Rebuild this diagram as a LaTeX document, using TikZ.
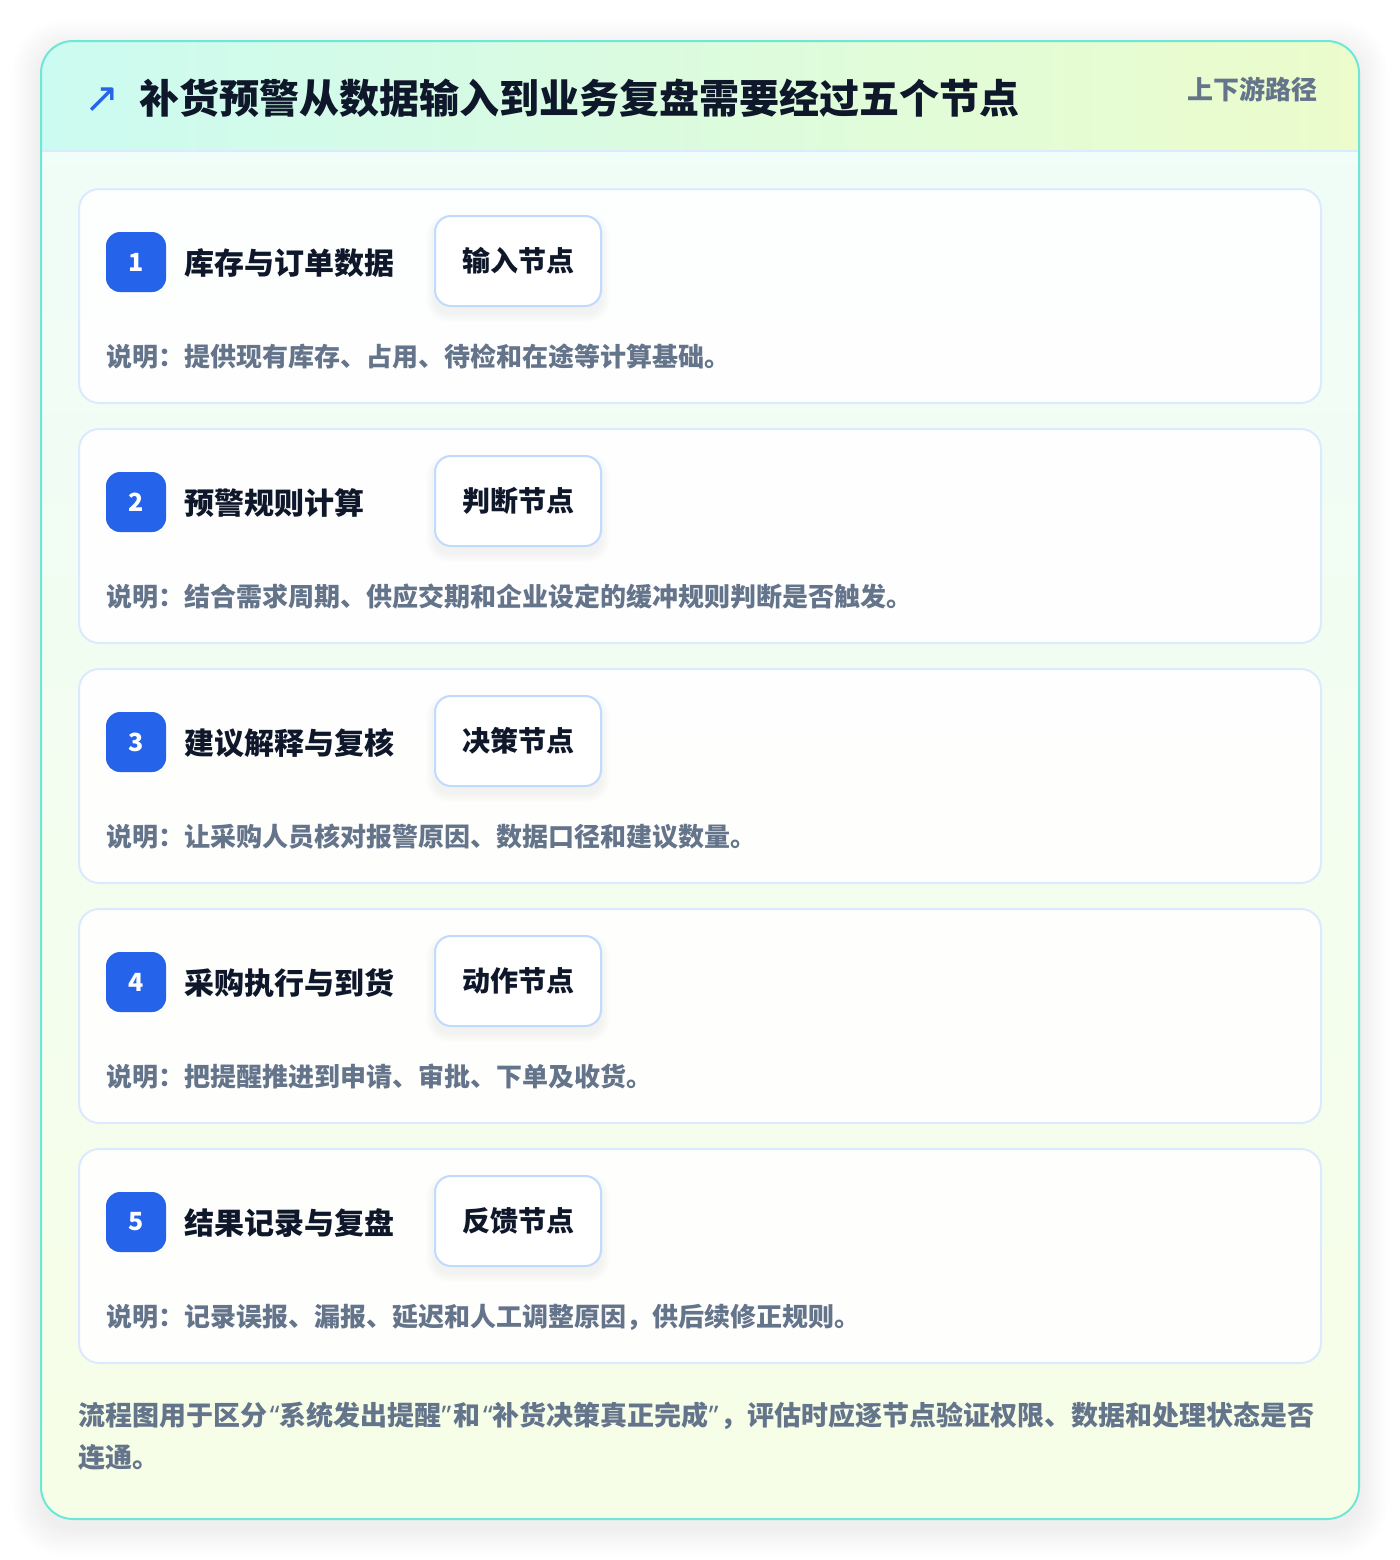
\documentclass[tikz,border=0pt]{standalone}
\usepackage{fontspec}
\setmainfont{Noto Sans CJK SC}
\newfontfamily\symfont{DejaVu Sans}
\newfontfamily\latinfont{Noto Sans}
\newcommand{\myLq}{\makebox[0.45em][r]{\latinfont “}}
\newcommand{\myRq}{\makebox[0.45em][l]{\latinfont ”}}
\definecolor{ink}{HTML}{0F172A}
\definecolor{slate}{HTML}{64748B}
\definecolor{brand}{HTML}{2563EB}
\definecolor{teal}{HTML}{6EE7D6}
\definecolor{cardline}{HTML}{DBEAFE}
\definecolor{tagline}{HTML}{BFDBFE}
\definecolor{hdrL}{HTML}{CCFBF1}
\definecolor{hdrR}{HTML}{ECFCCB}
\definecolor{bodyT}{HTML}{EFFDF9}
\definecolor{bodyB}{HTML}{F7FEE7}
\begin{document}
\begin{tikzpicture}[x=0.5pt,y=-0.5pt,
  card/.style={draw=cardline,line width=1pt,fill=white,fill opacity=0.93,text opacity=1,rounded corners=10pt,minimum width=621pt,minimum height=107pt,inner sep=0pt},
  badge/.style={fill=brand,rounded corners=7pt,minimum width=30pt,minimum height=30pt,inner sep=0pt,text=white,font=\bfseries\fontsize{12.5pt}{14pt}\selectfont},
  ctitle/.style={anchor=west,inner sep=0pt,text=ink,font=\bfseries\fontsize{15pt}{18pt}\selectfont},
  tagbox/.style={draw=tagline,line width=1pt,fill=white,rounded corners=8pt,minimum width=83pt,minimum height=45pt,inner sep=0pt,text=ink,font=\bfseries\fontsize{14pt}{17pt}\selectfont},
  desc/.style={anchor=west,inner sep=0pt,text=slate,font=\bfseries\fontsize{13pt}{16pt}\selectfont}
]
\useasboundingbox (0,0) rectangle (1400,1560);
\fill[white] (0,0) rectangle (1400,1560);
% outer shadow
\foreach \i in {1,...,16}{
  \pgfmathsetmacro\rr{16+\i*0.6}
  \fill[black,opacity=0.005,rounded corners=\rr pt] (41-\i*1.8,41-\i*1.8+8) rectangle (1359+\i*1.8,1519+\i*1.8+8);
}
% outer card body
\path[rounded corners=16pt,top color=bodyT,bottom color=bodyB] (41,41) rectangle (1359,1519);
\begin{scope}
  \clip[rounded corners=16pt] (41,41) rectangle (1359,1519);
  \path[left color=hdrL,right color=hdrR] (41,41) rectangle (1359,151);
\end{scope}
\draw[cardline,line width=1pt] (42,151) -- (1358,151);
\draw[teal,line width=1pt,rounded corners=16pt] (41,41) rectangle (1359,1519);
% header
\node[anchor=center,inner sep=0pt,text=brand,font=\symfont\fontsize{21pt}{24pt}\selectfont] (arrow) at (102,100) {↗};
\node[anchor=west,inner sep=0pt,text=ink,font=\bfseries\fontsize{20pt}{24pt}\selectfont] (title) at (139,98) {补货预警从数据输入到业务复盘需要经过五个节点};
\node[anchor=east,inner sep=0pt,text=slate,font=\bfseries\fontsize{13pt}{16pt}\selectfont] (path) at (1318,89) {上下游路径};
% cards
\foreach \n/\t/\g/\d in {
  1/库存与订单数据/输入节点/说明：提供现有库存、占用、待检和在途等计算基础。,
  2/预警规则计算/判断节点/说明：结合需求周期、供应交期和企业设定的缓冲规则判断是否触发。,
  3/建议解释与复核/决策节点/说明：让采购人员核对报警原因、数据口径和建议数量。,
  4/采购执行与到货/动作节点/说明：把提醒推进到申请、审批、下单及收货。,
  5/结果记录与复盘/反馈节点/说明：记录误报、漏报、延迟和人工调整原因，供后续修正规则。}{
  \pgfmathsetmacro\top{189+240*(\n-1)}
  \node[card] (card\n) at (700,\top+107) {};
  \node[badge] (badge\n) at (136,\top+73) {\n};
  \node[ctitle] (ct\n) at (184,\top+74) {\t};
  \foreach \k in {1,...,6}{
    \fill[black,opacity=0.006,rounded corners=8pt+\k*0.5pt] (435-\k*1.5,\top+28-\k*1.5+6) rectangle (601+\k*1.5,\top+118+\k*1.5+6);
  }
  \node[tagbox] (tag\n) at (518,\top+72) {\g};
  \node[desc] (desc\n) at (106,\top+168) {\d};
}
% footer
\node[anchor=west,align=left,inner sep=0pt,text=slate,font=\bfseries\fontsize{13.5pt}{21pt}\selectfont] (foot) at (78,1436) {流程图用于区分\myLq 系统发出提醒\myRq 和\myLq 补货决策真正完成\myRq ，评估时应逐节点验证权限、数据和处理状态是否\\连通。};
\end{tikzpicture}
\end{document}
